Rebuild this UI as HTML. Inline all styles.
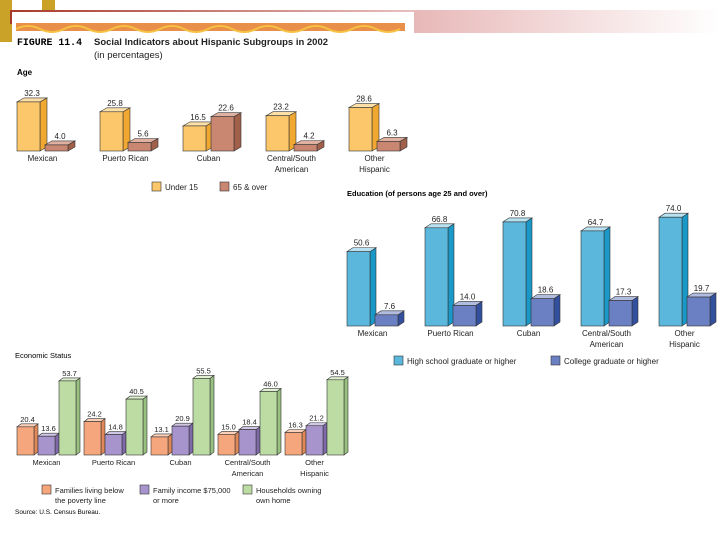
<!DOCTYPE html>
<html><head><meta charset="utf-8"><style>
body{margin:0;background:#fff;}
svg{display:block;font-family:"Liberation Sans",sans-serif;}
</style></head><body>
<svg id="s" width="720" height="540" viewBox="0 0 720 540">
<defs>
<linearGradient id="pg" x1="0" x2="1"><stop offset="0" stop-color="#e8b8b8"/><stop offset="1" stop-color="#fff"/></linearGradient>
<linearGradient id="lg" x1="0" x2="1"><stop offset="0" stop-color="#a83a2a"/><stop offset="1" stop-color="#e8c0c0"/></linearGradient>
</defs>
<rect x="0" y="0" width="12" height="42" fill="#c9a227"/>
<rect x="42" y="0" width="13" height="10" fill="#c9a227"/>
<rect x="10" y="10" width="405" height="2" fill="url(#lg)"/>
<rect x="10" y="10" width="2" height="14" fill="#a83a2a"/>
<rect x="414" y="10" width="306" height="23" fill="url(#pg)"/>
<rect x="16" y="23" width="389" height="8" fill="#e8904a"/>
<path d="M16 29 q12 -6 24 0 t24 0 t24 0 t24 0 t24 0 t24 0 t24 0 t24 0 t24 0 t24 0 t24 0 t24 0 t24 0 t24 0 t24 0 t24 0" fill="none" stroke="#f8c040" stroke-width="2"/>
<text x="17" y="45" font-size="10" font-weight="bold" font-family="Liberation Mono,monospace" textLength="65" lengthAdjust="spacingAndGlyphs">FIGURE 11.4</text>
<text x="94" y="45" font-size="9.5" font-weight="bold" fill="#222" textLength="234" lengthAdjust="spacingAndGlyphs">Social Indicators about Hispanic Subgroups in 2002</text>
<text x="94" y="58" font-size="9.5" fill="#222">(in percentages)</text>
<text x="17" y="75" font-size="8" font-weight="bold">Age</text>
<text x="347" y="196" font-size="7.5" font-weight="bold">Education (of persons age 25 and over)</text>
<text x="15" y="358" font-size="7.5">Economic Status</text>
<text x="15" y="514" font-size="6.5">Source: U.S. Census Bureau.</text>
<g id="charts"></g>
</svg>
<script>
const groups = [["Mexican"],["Puerto Rican"],["Cuban"],["Central/South","American"],["Other","Hispanic"]];
const ageUnder15 = [32.3, 25.8, 16.5, 23.2, 28.6];
const age65 = [4.0, 5.6, 22.6, 4.2, 6.3];
const eduHigh = [50.6, 66.8, 70.8, 64.7, 74.0];
const eduCollege = [7.6, 14.0, 18.6, 17.3, 19.7];
const econPoverty = [20.4, 24.2, 13.1, 15.0, 16.3];
const econIncome = [13.6, 14.8, 20.9, 18.4, 21.2];
const econHome = [53.7, 40.5, 55.5, 46.0, 54.5];

const NS = "http://www.w3.org/2000/svg";
const root = document.getElementById('charts');
function mk(tag, attrs, parent){const e=document.createElementNS(NS,tag);for(const k in attrs)e.setAttribute(k,attrs[k]);(parent||root).appendChild(e);return e;}

function chart(cfg){
  const g = mk('g',{});
  
  
  const y = v => cfg.base - v*cfg.scale;
  cfg.series.forEach((s,si)=>{
    s.values.forEach((v,gi)=>{
      const x = cfg.x0 + gi*cfg.step + si*(cfg.bw+cfg.gap);
      const top = y(v), w=cfg.bw, dx=cfg.dx, dy=cfg.dy, b=cfg.base;
      const bar = mk('g',{},g);
      
      
      mk('polygon',{points:`${x+w},${top} ${x+w+dx},${top-dy} ${x+w+dx},${b-dy} ${x+w},${b}`,fill:s.side,stroke:'#333','stroke-width':0.6},bar);
      mk('polygon',{points:`${x},${top} ${x+dx},${top-dy} ${x+w+dx},${top-dy} ${x+w},${top}`,fill:s.topc,stroke:'#333','stroke-width':0.6},bar);
      mk('rect',{x:x,y:top,width:w,height:b-top,fill:s.color,stroke:'#333','stroke-width':0.6},bar);
      const t = mk('text',{x:x+w/2+dx/2,y:top-dy-2,'font-size':cfg.fs,'text-anchor':'middle',fill:'#222'},bar);
      t.textContent = v.toFixed(1);
      
      
    });
  });
  groups.forEach((lines,gi)=>{
    const cx = cfg.x0 + gi*cfg.step + (cfg.series.length*(cfg.bw+cfg.gap)-cfg.gap)/2;
    lines.forEach((ln,li)=>{
      const t = mk('text',{x:cx,y:cfg.base+10+li*11,'font-size':cfg.fs,'text-anchor':'middle',fill:'#222'},g);
      t.textContent = ln;
      
      
    });
  });
  cfg.legend.forEach(L=>{
    const r = mk('rect',{x:L.x,y:L.y,width:9,height:9,fill:L.color,stroke:'#333','stroke-width':0.6},g);
    
    
    L.lines.forEach((ln,li)=>{
      const t = mk('text',{x:L.x+13,y:L.y+8+li*10,'font-size':cfg.fs,fill:'#222'},g);
      t.textContent = ln;
      
      
    });
  });
}

chart({name:'age-chart',x0:17,step:83,bw:23,gap:5,base:151,scale:1.52,dx:7,dy:4,fs:8,
  series:[{key:'under15',values:ageUnder15,color:'#fbc76a',side:'#f0a830',topc:'#fde0a8'},
          {key:'65over',values:age65,color:'#c98670',side:'#a0604a',topc:'#e0b0a0'}],
  legend:[{x:152,y:182,color:'#fbc76a',lines:['Under 15']},{x:220,y:182,color:'#c98670',lines:['65 & over']}]});

chart({name:'education-chart',x0:347,step:78,bw:23,gap:5,base:326,scale:1.47,dx:6,dy:4,fs:8,
  series:[{key:'highschool',values:eduHigh,color:'#5bb8dc',side:'#1a98c8',topc:'#b8e2f2'},
          {key:'college',values:eduCollege,color:'#6a80c2',side:'#32509e',topc:'#b0bce0'}],
  legend:[{x:394,y:356,color:'#5bb8dc',lines:['High school graduate or higher']},{x:551,y:356,color:'#6a80c2',lines:['College graduate or higher']}]});

chart({name:'economic-chart',x0:17,step:67,bw:17,gap:4,base:455,scale:1.38,dx:4,dy:3,fs:7.5,
  series:[{key:'poverty',values:econPoverty,color:'#f6a67c',side:'#e08858',topc:'#fbd0b8'},
          {key:'income',values:econIncome,color:'#a794cc',side:'#7e6aa8',topc:'#d0c6e6'},
          {key:'home',values:econHome,color:'#bcdca4',side:'#98c080',topc:'#def0d0'}],
  legend:[{x:42,y:485,color:'#f6a67c',lines:['Families living below','the poverty line']},
          {x:140,y:485,color:'#a794cc',lines:['Family income $75,000','or more']},
          {x:243,y:485,color:'#bcdca4',lines:['Households owning','own home']}]});
</script>
</body></html>
